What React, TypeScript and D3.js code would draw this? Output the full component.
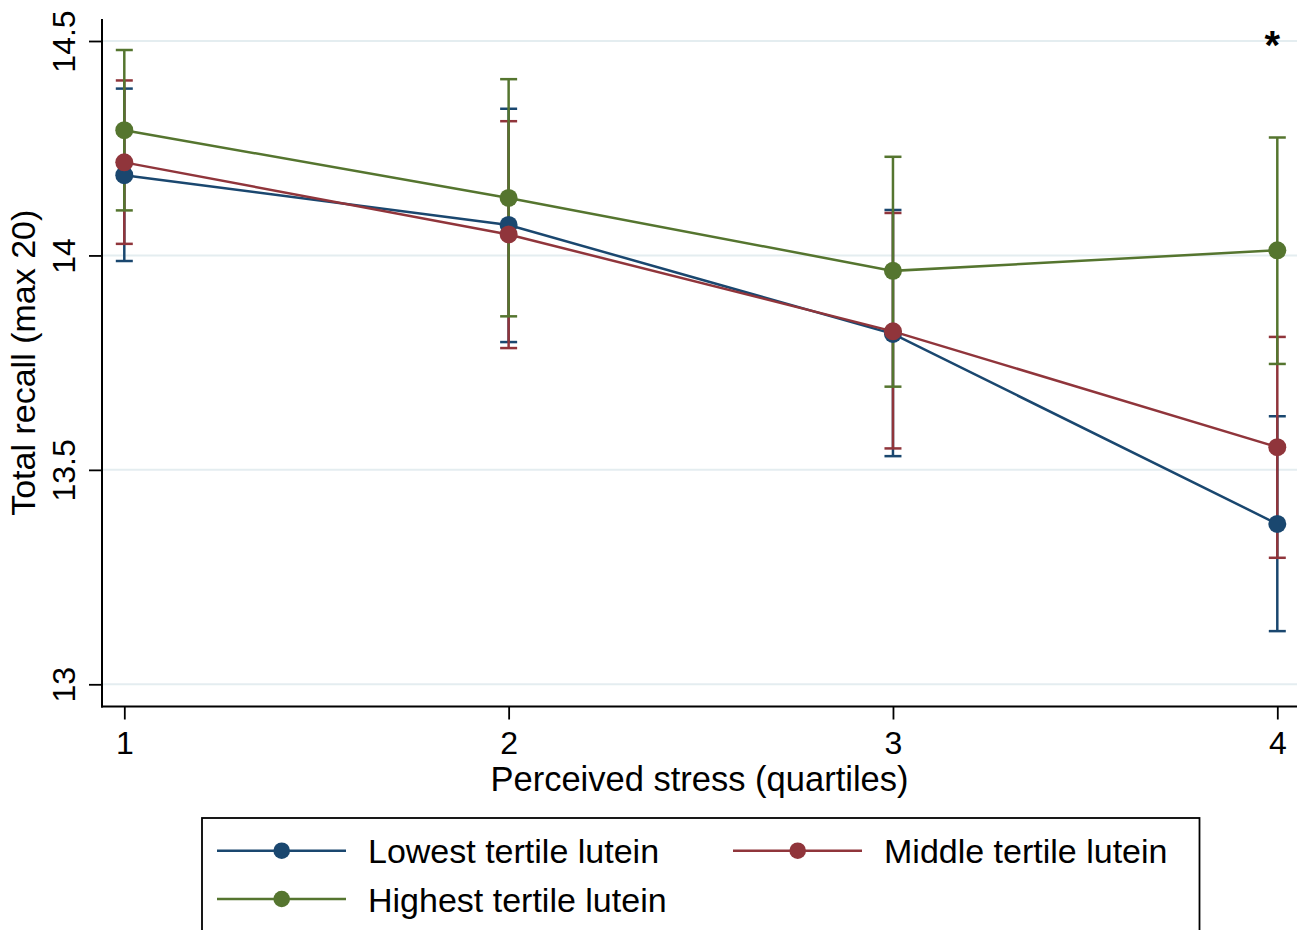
import { useEffect, useRef } from "react";
import * as d3 from "d3";

const width = 1297;
const height = 930;

// perceived stress quartiles
const quartiles = [1, 2, 3, 4];

// lowest tertile lutein
const lowestMean = [14.187, 14.071, 13.817, 13.374];
const lowestLo = [13.987, 13.798, 13.532, 13.124];
const lowestHi = [14.389, 14.342, 14.106, 13.625];

// middle tertile lutein
const middleMean = [14.217, 14.049, 13.823, 13.553];
const middleLo = [14.027, 13.784, 13.55, 13.295];
const middleHi = [14.408, 14.313, 14.099, 13.81];

// highest tertile lutein
const highestMean = [14.292, 14.134, 13.964, 14.012];
const highestLo = [14.105, 13.858, 13.694, 13.747];
const highestHi = [14.479, 14.411, 14.23, 14.275];

const yTicks = [13, 13.5, 14, 14.5];
const yTickLabels = ["13", "13.5", "14", "14.5"];
const xTickLabels = ["1", "2", "3", "4"];

const seriesNames = [
  "Lowest tertile lutein",
  "Middle tertile lutein",
  "Highest tertile lutein",
];
const colors = ["#1a476f", "#90353b", "#55752f"];

const font = "'Liberation Sans', Arial, Helvetica, sans-serif";

const App = () => {
  const svgRef = useRef<SVGSVGElement | null>(null);

  useEffect(() => {
    const series = [
      { mean: lowestMean, lo: lowestLo, hi: lowestHi },
      { mean: middleMean, lo: middleLo, hi: middleHi },
      { mean: highestMean, lo: highestLo, hi: highestHi },
    ];

    const plotLeft = 102;
    const plotRight = 1297;
    const plotTop = 19;
    const plotBottom = 706.5;

    const xScale = d3.scaleLinear().domain([1, 4]).range([124.3, 1277.3]);
    const yScale = d3.scaleLinear().domain([13, 14.5]).range([684.3, 41]);

    const svg = d3.select(svgRef.current);
    svg.selectAll("*").remove();

    // gridlines
    svg
      .append("g")
      .selectAll("line")
      .data(yTicks)
      .join("line")
      .attr("x1", plotLeft)
      .attr("x2", plotRight)
      .attr("y1", (d) => yScale(d))
      .attr("y2", (d) => yScale(d))
      .attr("stroke", "#e4edf0")
      .attr("stroke-width", 2);

    // axes
    const yAxis = d3
      .axisLeft(yScale)
      .tickValues(yTicks)
      .tickFormat((d, i) => yTickLabels[i])
      .tickSize(13)
      .tickSizeOuter(0);
    const yg = svg
      .append("g")
      .attr("transform", `translate(${plotLeft},0)`)
      .call(yAxis);
    yg.select(".domain").remove();
    yg.selectAll(".tick line").attr("stroke", "#000").attr("stroke-width", 1.8);
    yg.selectAll(".tick text")
      .attr("x", 0)
      .attr("y", 0)
      .attr("dy", 0)
      .attr("text-anchor", "middle")
      .attr("transform", "translate(-27,0) rotate(-90)")
      .attr("font-family", font)
      .attr("font-size", 32)
      .attr("fill", "#000");

    const xAxis = d3
      .axisBottom(xScale)
      .tickValues(quartiles)
      .tickFormat((d, i) => xTickLabels[i])
      .tickSize(13)
      .tickSizeOuter(0);
    const xg = svg
      .append("g")
      .attr("transform", `translate(0,${plotBottom})`)
      .call(xAxis);
    xg.select(".domain").remove();
    xg.selectAll(".tick line").attr("stroke", "#000").attr("stroke-width", 1.8);
    xg.selectAll(".tick text")
      .attr("y", 47)
      .attr("dy", 0)
      .attr("font-family", font)
      .attr("font-size", 32)
      .attr("fill", "#000");

    svg
      .append("line")
      .attr("x1", plotLeft)
      .attr("x2", plotLeft)
      .attr("y1", plotTop)
      .attr("y2", plotBottom + 1)
      .attr("stroke", "#000")
      .attr("stroke-width", 2);
    svg
      .append("line")
      .attr("x1", plotLeft - 1)
      .attr("x2", plotRight)
      .attr("y1", plotBottom)
      .attr("y2", plotBottom)
      .attr("stroke", "#000")
      .attr("stroke-width", 2);

    // axis titles
    svg
      .append("text")
      .attr("transform", `translate(35,${(plotTop + plotBottom) / 2}) rotate(-90)`)
      .attr("text-anchor", "middle")
      .attr("font-family", font)
      .attr("font-size", 34)
      .text("Total recall (max 20)");
    svg
      .append("text")
      .attr("x", (plotLeft + plotRight) / 2)
      .attr("y", 791)
      .attr("text-anchor", "middle")
      .attr("font-family", font)
      .attr("font-size", 34.5)
      .text("Perceived stress (quartiles)");

    // error bars
    const capHalf = 8.5;
    series.forEach((s, si) => {
      const g = svg.append("g").attr("stroke", colors[si]).attr("stroke-width", 2.5);
      quartiles.forEach((q, i) => {
        const x = xScale(q);
        g.append("line")
          .attr("x1", x)
          .attr("x2", x)
          .attr("y1", yScale(s.lo[i]))
          .attr("y2", yScale(s.hi[i]));
        [s.lo[i], s.hi[i]].forEach((v) => {
          g.append("line")
            .attr("x1", x - capHalf)
            .attr("x2", x + capHalf)
            .attr("y1", yScale(v))
            .attr("y2", yScale(v));
        });
      });
    });

    // connected lines with markers
    const lineGen = d3
      .line<number>()
      .x((d, i) => xScale(quartiles[i]))
      .y((d) => yScale(d));
    series.forEach((s, si) => {
      svg
        .append("path")
        .attr("d", lineGen(s.mean))
        .attr("fill", "none")
        .attr("stroke", colors[si])
        .attr("stroke-width", 2.5);
      svg
        .append("g")
        .selectAll("circle")
        .data(s.mean)
        .join("circle")
        .attr("cx", (d, i) => xScale(quartiles[i]))
        .attr("cy", (d) => yScale(d))
        .attr("r", 9)
        .attr("fill", colors[si]);
    });

    // significance marker
    svg
      .append("text")
      .attr("x", xScale(4) - 5)
      .attr("y", 59)
      .attr("text-anchor", "middle")
      .attr("font-family", font)
      .attr("font-weight", "bold")
      .attr("font-size", 40)
      .text("*");

    // legend
    svg
      .append("rect")
      .attr("x", 202)
      .attr("y", 818)
      .attr("width", 997.5)
      .attr("height", 160)
      .attr("fill", "none")
      .attr("stroke", "#000")
      .attr("stroke-width", 1.8);

    const legendPos = [
      { x: 217, y: 850.7 },
      { x: 733, y: 850.7 },
      { x: 217, y: 899 },
    ];
    seriesNames.forEach((name, si) => {
      const p = legendPos[si];
      const g = svg.append("g").attr("transform", `translate(${p.x},${p.y})`);
      g.append("line")
        .attr("x1", 0)
        .attr("x2", 129)
        .attr("y1", 0)
        .attr("y2", 0)
        .attr("stroke", colors[si])
        .attr("stroke-width", 2.5);
      g.append("circle").attr("cx", 64.7).attr("cy", 0).attr("r", 8.3).attr("fill", colors[si]);
      g.append("text")
        .attr("x", 151)
        .attr("y", 12.5)
        .attr("font-family", font)
        .attr("font-size", 34)
        .attr("fill", "#000")
        .text(name);
    });
  }, []);

  return (
    <svg
      ref={svgRef}
      width={width}
      height={height}
      style={{ position: "absolute", left: 0, top: 0, background: "#fff" }}
    />
  );
};

export default App;
